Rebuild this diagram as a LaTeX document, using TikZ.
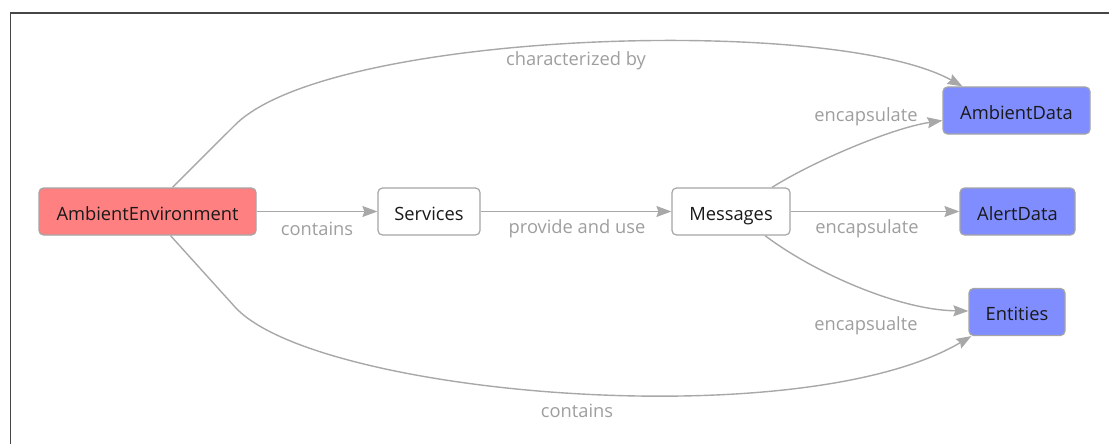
\documentclass[tikz,border=0pt]{standalone}
\usepackage{fontspec}
\setmainfont{Open Sans}
\usetikzlibrary{arrows.meta}
\definecolor{redfill}{RGB}{255,128,128}
\definecolor{bluefill}{RGB}{128,141,255}
\definecolor{edgegray}{RGB}{168,168,168}
\definecolor{bordergray}{RGB}{165,165,165}
\definecolor{labelgray}{RGB}{158,158,158}
\definecolor{framegray}{RGB}{70,70,70}
\begin{document}
\begin{tikzpicture}[x=1pt,y=-1pt,
  box/.style={draw=bordergray, line width=1.2pt, rounded corners=4.5pt, inner sep=0pt,
    minimum height=47pt, text height=17pt, text depth=0pt,
    font=\fontsize{18.3}{21}\selectfont, text=black!90},
  wbox/.style={box, fill=white},
  rbox/.style={box, fill=redfill},
  bbox/.style={box, fill=bluefill},
  conn/.style={draw=edgegray, line width=1.4pt, -{Stealth[length=15pt,width=11pt,inset=2pt]}},
  lbl/.style={text=labelgray, font=\fontsize{18.3}{21}\selectfont, inner sep=0pt},
  frame/.style={draw=framegray, line width=1.5pt}
]
\useasboundingbox (0,0) rectangle (1109,444);
\draw[frame] (10.5,444) -- (10.5,13) -- (1109,13);

\node[rbox, minimum width=217pt] (ae) at (147.5,211.5) {AmbientEnvironment};
\node[wbox, minimum width=102pt] (sv) at (429,211.5) {Services};
\node[wbox, minimum width=118pt] (ms) at (731,211.5) {Messages};
\node[bbox, minimum width=147pt] (ad) at (1016.5,110.5) {AmbientData};
\node[bbox, minimum width=115pt] (al) at (1017.5,211.5) {AlertData};
\node[bbox, minimum width=96pt] (en) at (1017,312) {Entities};

\coordinate (c1) at (235,125);
\coordinate (c2) at (235,307);

\draw[conn] (ae) -- (sv);
\draw[conn] (sv) -- (ms);
\draw[conn] (ms) -- (al);
\draw[conn] ([xshift=25pt]ae.north) -- (c1) .. controls (330,30) and (835,15) .. ([xshift=-54pt]ad.north);
\draw[conn] ([xshift=23pt]ae.south) -- (c2) .. controls (315,395) and (800,437) .. ([xshift=3pt]en.south west);
\draw[conn] ([xshift=41pt]ms.north) .. controls (814,161) and (892,128) .. ([yshift=-10pt]ad.west);
\draw[conn] ([xshift=34pt]ms.south) .. controls (813,272) and (898,310) .. ([yshift=1pt]en.west);

\node[lbl] (l1) at (317,229) {contains};
\node[lbl] (l2) at (577,229) {provide and use};
\node[lbl] (l3) at (867,229) {encapsulate};
\node[lbl] (l4) at (866,117) {encapsulate};
\node[lbl] (l5) at (866,326) {encapsualte};
\node[lbl] (l6) at (576,61) {characterized by};
\node[lbl] (l7) at (577,411) {contains};
\end{tikzpicture}
\end{document}
